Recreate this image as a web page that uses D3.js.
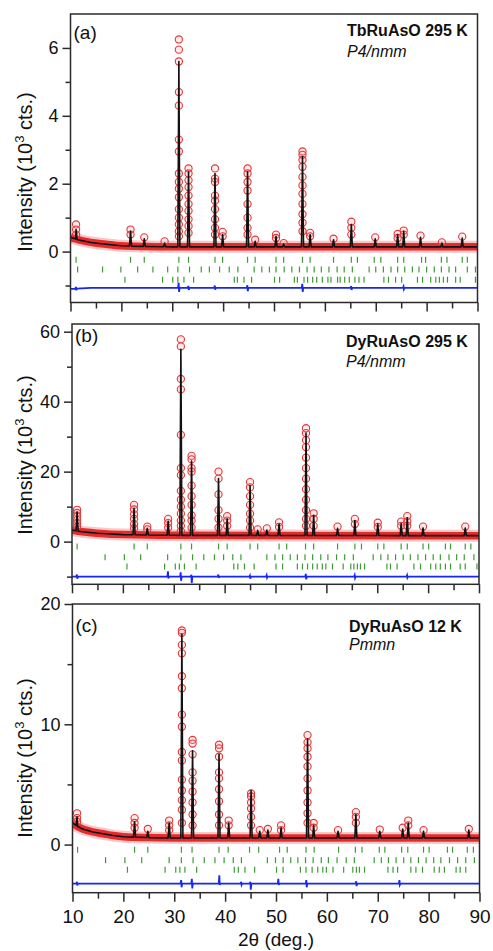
<!DOCTYPE html>
<html>
<head>
<meta charset="utf-8">
<script src="https://cdn.jsdelivr.net/npm/d3@7"></script>
<style>
  body { margin: 0; background: #fff; }
  svg { display: block; }
  text { font-family: "Liberation Sans", Arial, sans-serif; fill: #111; }
</style>
</head>
<body>
<svg id="chart" width="493" height="951"></svg>
<script>
// ---------- shared axis values ----------
const xMajor = [10, 20, 30, 40, 50, 60, 70, 80, 90];
const xMinor = [15, 25, 35, 45, 55, 65, 75, 85];

// ---------- (a) TbRuAsO 295 K ----------
const yMajorA = [0, 2, 4, 6];
const yMinorA = [-1, 1, 3, 5];
// background [2θ, I]
const bgA = [[10, 0.42], [11, 0.37], [12, 0.33], [14, 0.27], [16, 0.23], [18, 0.2], [20, 0.17], [25, 0.15], [30, 0.14], [90, 0.14]];
// peaks: [2θ, calculated top, observed points along the peak]
const peaksA = [
  [11.1, 0.65, [0.8, 0.65, 0.5]],
  [21.8, 0.6, [0.65, 0.5]],
  [24.5, 0.38, [0.42]],
  [28.5, 0.25, [0.3]],
  [31.3, 5.6, [6.25, 5.95, 5.6, 4.7, 4.3, 3.3, 2.95, 2.3, 2.05, 1.85, 1.6, 1.25, 1.0, 0.8, 0.6, 0.45]],
  [33.2, 2.35, [2.45, 2.3, 2.1, 1.9, 1.65, 1.4, 1.2, 0.95, 0.75, 0.55]],
  [38.4, 2.3, [2.45, 2.15, 2.05, 1.65, 1.5, 1.25, 0.95, 0.7, 0.5]],
  [39.9, 0.5, [0.58, 0.45]],
  [44.8, 2.35, [2.45, 2.3, 2.05, 1.8, 1.4, 1.0, 0.7, 0.5]],
  [46.3, 0.3, [0.35]],
  [50.4, 0.45, [0.5, 0.4]],
  [51.9, 0.22, [0.25]],
  [55.6, 2.8, [2.95, 2.85, 2.7, 2.5, 2.2, 1.95, 1.7, 1.4, 1.1, 0.85, 0.6]],
  [57.1, 0.5, [0.55, 0.45]],
  [61.7, 0.35, [0.38]],
  [65.2, 0.8, [0.88, 0.7, 0.5]],
  [69.9, 0.38, [0.42]],
  [74.3, 0.5, [0.52, 0.4]],
  [75.5, 0.6, [0.62, 0.5]],
  [78.8, 0.42, [0.47]],
  [83.0, 0.25, [0.27]],
  [87.0, 0.4, [0.44]]
];
const braggA1 = [11.1, 21.8, 24.5, 31.3, 33.2, 38.4, 39.9, 44.8, 46.3, 50.4, 51.9, 55.6, 57.1, 61.7, 65.2, 66.4, 69.7, 71.0, 74.3, 75.5, 79.0, 79.8, 82.9, 84.0, 87.0, 88.0];
const braggA2 = [11.4, 16.3, 19.9, 23.2, 26.2, 29.1, 31.1, 33.4, 35.7, 37.3, 39.3, 41.2, 42.9, 46.1, 47.6, 49.1, 50.4, 52.0, 53.5, 55.0, 56.5, 57.9, 59.3, 60.8, 62.4, 63.8, 65.4, 68.7, 70.0, 71.5, 73.0, 74.3, 75.7, 77.2, 78.5, 80.0, 81.5, 82.9, 84.4, 85.7, 88.0, 89.6];
const braggA3 = [20.7, 28.1, 30.1, 31.1, 32.3, 34.2, 42.2, 42.8, 44.1, 45.6, 50.1, 51.1, 54.0, 54.6, 55.9, 56.6, 57.6, 58.4, 59.5, 60.6, 61.2, 62.5, 63.0, 63.9, 64.8, 65.9, 66.7, 67.7, 71.6, 72.5, 73.9, 75.1, 78.2, 79.2, 80.8, 81.8, 82.5, 83.3, 84.1, 85.7, 86.6, 89.6];
// difference curve: baseline [2θ, I] and spikes [2θ, up, down]
const diffBaseA = [[10, -1.1], [14, -1.07], [90, -1.07]];
const diffSpikesA = [[11.1, 0.05, -0.05], [31.3, 0.15, -0.12], [33.2, 0.06, -0.06], [38.4, 0.07, -0.05], [44.8, 0.08, -0.1], [55.6, 0.12, -0.12], [65.2, 0.05, -0.06], [75.5, 0.04, -0.04]];

// ---------- (b) DyRuAsO 295 K ----------
const yMajorB = [0, 20, 40, 60];
const yMinorB = [-10, 10, 30, 50];
const bgB = [[10, 3.3], [12, 2.8], [15, 2.4], [20, 2.0], [30, 1.8], [90, 1.7]];
const peaksB = [
  [11.0, 8.5, [9.1, 8.2, 7.2, 6.2, 5.2, 4.2]],
  [22.2, 9.5, [10.5, 9.2, 7.8, 6.5, 5.0, 3.8]],
  [24.8, 3.8, [4.3, 3.5]],
  [28.9, 5.8, [6.5, 5.3, 4.0]],
  [31.4, 55, [57.8, 55.8, 46.5, 43.5, 30.5, 21, 19, 14.5, 12, 10, 8, 6, 4.5, 3]],
  [33.5, 23, [24.5, 23.5, 21, 20, 16, 13, 10.5, 7.5, 6, 4]],
  [38.8, 18, [20, 18, 13.5, 9, 6.5, 4]],
  [40.5, 6.5, [7.3, 6, 4.5]],
  [45.0, 16, [17, 15.5, 13, 10.5, 8, 6, 4]],
  [46.5, 3.2, [3.5]],
  [48.3, 3.3, [3.8]],
  [50.7, 5.0, [5.5, 4.2]],
  [56.0, 31, [32.4, 31, 29, 27, 24, 21, 18, 15, 12, 9, 6.5, 4.5]],
  [57.5, 7.5, [8.1, 6.5, 4.5]],
  [62.2, 3.8, [4.3]],
  [65.6, 6.0, [6.5, 5]],
  [70.1, 5.0, [5.4, 4.2]],
  [74.7, 5.2, [5.7, 4.5]],
  [75.9, 6.8, [7.3, 5.8, 4.5]],
  [79.0, 3.9, [4.3]],
  [87.3, 3.9, [4.3]]
];
const braggB1 = [11.0, 22.2, 24.8, 31.4, 33.5, 38.8, 40.5, 45.0, 46.5, 50.7, 52.2, 55.9, 57.5, 62.2, 65.6, 66.9, 70.1, 71.3, 74.7, 75.9, 79.0, 80.1, 83.4, 84.4, 87.3, 88.4];
const braggB2 = [16.5, 20.3, 23.5, 28.8, 31.4, 33.7, 35.9, 38.0, 39.8, 41.6, 43.2, 48.3, 49.9, 51.4, 52.9, 54.3, 55.8, 57.3, 58.9, 60.3, 62.0, 63.6, 65.3, 69.2, 70.7, 72.1, 73.6, 75.1, 76.5, 78.0, 79.5, 81.0, 82.4, 84.1, 85.6, 87.1, 89.0];
const braggB3 = [20.8, 28.2, 30.3, 31.1, 32.1, 34.4, 41.8, 42.6, 43.9, 45.8, 50.1, 51.4, 54.3, 55.3, 56.3, 57.3, 58.2, 59.2, 59.9, 61.2, 63.3, 64.8, 65.4, 66.1, 66.7, 67.5, 71.9, 72.6, 73.9, 77.2, 78.5, 80.5, 81.5, 82.4, 83.4, 84.4, 86.3, 87.3, 89.6];
const diffBaseB = [[10, -10], [90, -10]];
const diffSpikesB = [[11.0, 0.6, -0.6], [28.9, 1.5, -0.5], [31.4, 1.2, -1.2], [33.5, 0.5, -1.8], [38.8, 0.6, -0.4], [45.0, 0.3, -0.6], [48.3, 0.4, -0.3], [56.0, 0.8, -0.8], [65.6, 0.4, -0.4], [75.9, 0.4, -0.3]];

// ---------- (c) DyRuAsO 12 K ----------
const yMajorC = [0, 10, 20];
const yMinorC = [5, 15];
const bgC = [[10, 1.8], [11, 1.5], [12, 1.3], [14, 1.05], [16, 0.9], [18, 0.75], [20, 0.65], [25, 0.58], [30, 0.55], [90, 0.55]];
const peaksC = [
  [10.9, 2.3, [2.6, 2.2, 1.9]],
  [22.2, 1.9, [2.2, 1.8, 1.4]],
  [24.8, 1.1, [1.3]],
  [29.0, 1.8, [2.0, 1.6, 1.2]],
  [31.5, 17.5, [17.8, 17.6, 16.6, 15.9, 14.0, 13.0, 10.8, 9.8, 7.7, 7.0, 5.4, 4.5, 3.7, 2.9, 1.8]],
  [33.6, 7.8, [8.7, 8.4, 7.5, 6.0, 5.3, 4.4, 3.5, 2.5, 1.6]],
  [38.8, 7.5, [8.3, 8.0, 7.3, 6.0, 5.5, 4.6, 3.6, 2.5, 1.6]],
  [40.7, 1.8, [2.0, 1.6]],
  [45.1, 4.5, [4.25, 4.0, 3.5, 3.0, 2.3, 1.6]],
  [46.8, 1.1, [1.2]],
  [48.4, 1.2, [1.3]],
  [51.0, 1.4, [1.6, 1.2]],
  [56.2, 8.8, [9.1, 8.5, 8.0, 7.3, 6.5, 5.5, 4.5, 3.5, 2.6, 1.8]],
  [57.4, 1.6, [1.8, 1.4]],
  [62.2, 1.1, [1.2]],
  [65.7, 2.5, [2.7, 2.3, 1.8]],
  [70.4, 1.1, [1.25]],
  [74.9, 1.3, [1.4]],
  [76.0, 1.8, [2.0, 1.6]],
  [79.0, 1.1, [1.2]],
  [87.9, 1.2, [1.3]]
];
const braggC1 = [11.0, 22.2, 24.8, 31.4, 33.5, 38.8, 40.6, 44.8, 46.6, 50.7, 52.2, 55.9, 57.5, 62.3, 65.6, 66.9, 70.3, 71.4, 74.7, 75.9, 79.0, 80.1, 83.7, 84.7, 87.6, 88.8];
const braggC2 = [16.5, 20.3, 23.6, 29.0, 31.4, 33.7, 35.9, 38.0, 39.8, 41.6, 43.2, 48.3, 49.9, 51.4, 52.9, 54.3, 55.8, 57.3, 58.9, 60.3, 62.0, 63.8, 65.4, 69.3, 70.7, 72.1, 73.6, 75.1, 76.5, 78.0, 79.5, 81.0, 82.4, 84.1, 85.7, 87.3, 89.0];
const braggC3 = [20.8, 28.2, 30.3, 31.1, 32.1, 34.4, 41.8, 42.6, 43.9, 45.8, 50.1, 51.4, 54.8, 55.9, 57.1, 58.2, 59.2, 59.9, 61.2, 63.3, 65.1, 65.8, 66.4, 67.4, 72.0, 73.0, 73.9, 76.5, 77.5, 78.8, 81.1, 82.1, 83.1, 85.4, 86.2, 87.3];
const diffBaseC = [[10, -3.25], [90, -3.25]];
const diffSpikesC = [[10.9, 0.15, -0.15], [31.4, 0.3, -0.3], [33.5, 0.4, -0.4], [38.9, 0.7, -0.1], [43.2, 0.15, -0.1], [45.0, 0.15, -0.5], [50.5, 0.4, -0.1], [56.0, 0.3, -0.3], [65.8, 0.2, -0.2], [74.3, 0.3, -0.1]];

// ---------- layout ----------
const panels = [
  { left: 70.5, right: 477.5, top: 14, bottom: 302.5, yDomain: [-1.5, 7],
    yMajor: yMajorA, yMinor: yMinorA, bg: bgA, peaks: peaksA,
    bragg: [braggA1, braggA2, braggA3], braggY: [-0.24, -0.53, -0.83],
    diffBase: diffBaseA, diffSpikes: diffSpikesA,
    tag: "(a)", tagY: 39, compound: "TbRuAsO 295 K", group: "P4/nmm",
    textX: 347, compoundY: 36, groupY: 57, titleCY: 172, xLabels: false },
  { left: 72, right: 479, top: 324, bottom: 584.3, yDomain: [-12.2, 62.2],
    yMajor: yMajorB, yMinor: yMinorB, bg: bgB, peaks: peaksB,
    bragg: [braggB1, braggB2, braggB3], braggY: [-1.4, -4.5, -7.1],
    diffBase: diffBaseB, diffSpikes: diffSpikesB,
    tag: "(b)", tagY: 342, compound: "DyRuAsO 295 K", group: "P4/nmm",
    textX: 346, compoundY: 346.5, groupY: 366.5, titleCY: 455, xLabels: false },
  { left: 72.5, right: 479.5, top: 604, bottom: 892.7, yDomain: [-4, 20],
    yMajor: yMajorC, yMinor: yMinorC, bg: bgC, peaks: peaksC,
    bragg: [braggC1, braggC2, braggC3], braggY: [-0.42, -1.3, -2.1],
    diffBase: diffBaseC, diffSpikes: diffSpikesC,
    tag: "(c)", tagY: 632, compound: "DyRuAsO 12 K", group: "Pmmn",
    textX: 349, compoundY: 631.5, groupY: 650, titleCY: 758, xLabels: true }
];

const svg = d3.select("#chart");
const RED = "#e3191c", GREEN = "#3f9a36", BLUE = "#1428f0", AXIS = "#2a2a2a";
const FONT = '"Liberation Sans", Arial, sans-serif';

panels.forEach(p => {
  const x = d3.scaleLinear().domain([10, 90]).range([p.left, p.right]);
  const y = d3.scaleLinear().domain(p.yDomain).range([p.bottom, p.top]);
  const bgAt = d3.scaleLinear().domain(p.bg.map(d => d[0])).range(p.bg.map(d => d[1]));
  const g = svg.append("g");

  const clipId = "clip" + p.tag.replace(/\W/g, "");
  svg.append("clipPath").attr("id", clipId).append("rect")
    .attr("x", p.left).attr("y", p.top).attr("width", p.right - p.left).attr("height", p.bottom - p.top);
  const plot = g.append("g").attr("clip-path", `url(#${clipId})`);

  const line = d3.line().x(d => x(d[0])).y(d => y(d[1]));

  // observed background: dense band of open circles
  plot.append("path").datum(p.bg)
    .attr("d", line.curve(d3.curveMonotoneX))
    .attr("fill", "none").attr("stroke", "#f19a9a").attr("stroke-width", 12).attr("stroke-opacity", 0.55);
  plot.append("path").datum(p.bg)
    .attr("d", line.curve(d3.curveMonotoneX))
    .attr("fill", "none").attr("stroke", RED).attr("stroke-width", 7.5).attr("stroke-opacity", 0.9);
  line.curve(d3.curveLinear);

  // observed points along the peaks
  const obs = p.peaks.flatMap(pk => pk[2].map(v => [pk[0], v]));
  plot.append("g").selectAll("circle").data(obs).join("circle")
    .attr("cx", d => x(d[0])).attr("cy", d => y(d[1])).attr("r", 3.6)
    .attr("fill", "rgba(255,170,170,0.25)").attr("stroke", "#e2373a").attr("stroke-width", 1.1);

  // calculated profile
  const calc = p.bg.slice();
  p.peaks.forEach(pk => {
    calc.push([pk[0] - 0.2, bgAt(pk[0] - 0.2)], [pk[0], pk[1]], [pk[0] + 0.2, bgAt(pk[0] + 0.2)]);
  });
  calc.sort((a, b) => a[0] - b[0]);
  plot.append("path").datum(calc).attr("d", line)
    .attr("fill", "none").attr("stroke", "#111").attr("stroke-width", 1.6).attr("stroke-linejoin", "round");

  // Bragg reflection markers
  p.bragg.forEach((row, i) => {
    plot.append("g").selectAll("line").data(row).join("line")
      .attr("x1", d => x(d)).attr("x2", d => x(d))
      .attr("y1", y(p.braggY[i]) - 3).attr("y2", y(p.braggY[i]) + 3)
      .attr("stroke", GREEN).attr("stroke-width", 1.2);
  });

  // difference curve
  const diff = p.diffBase.slice();
  const baseAt = d3.scaleLinear().domain(p.diffBase.map(d => d[0])).range(p.diffBase.map(d => d[1]));
  p.diffSpikes.forEach(s => {
    const b = baseAt(s[0]);
    diff.push([s[0] - 0.15, b], [s[0] - 0.04, b + s[1]], [s[0] + 0.04, b + s[2]], [s[0] + 0.15, b]);
  });
  diff.sort((a, b) => a[0] - b[0]);
  plot.append("path").datum(diff).attr("d", line)
    .attr("fill", "none").attr("stroke", BLUE).attr("stroke-width", 1.8);

  // frame
  g.append("rect").attr("x", p.left).attr("y", p.top)
    .attr("width", p.right - p.left).attr("height", p.bottom - p.top)
    .attr("fill", "none").attr("stroke", AXIS).attr("stroke-width", 1.5);

  // y axis
  const yAx = g.append("g").attr("transform", `translate(${p.left},0)`)
    .call(d3.axisLeft(y).tickValues(p.yMajor).tickSize(8).tickPadding(4).tickSizeOuter(0).tickFormat(d3.format("d")));
  yAx.select(".domain").remove();
  yAx.selectAll("line").attr("stroke", AXIS).attr("stroke-width", 1.5);
  yAx.selectAll("text").attr("font-size", 18).attr("font-family", FONT).attr("fill", "#111");
  const yMin = g.append("g").attr("transform", `translate(${p.left},0)`)
    .call(d3.axisLeft(y).tickValues(p.yMinor).tickSize(5).tickFormat(""));
  yMin.select(".domain").remove();
  yMin.selectAll("line").attr("stroke", AXIS).attr("stroke-width", 1.5);

  // x axis
  const xAx = g.append("g").attr("transform", `translate(0,${p.bottom})`)
    .call(d3.axisBottom(x).tickValues(xMajor).tickSize(9).tickPadding(8).tickSizeOuter(0)
      .tickFormat(p.xLabels ? d3.format("d") : ""));
  xAx.select(".domain").remove();
  xAx.selectAll("line").attr("stroke", AXIS).attr("stroke-width", 1.5);
  xAx.selectAll("text").attr("font-size", 19).attr("font-family", FONT).attr("fill", "#111");
  const xMin = g.append("g").attr("transform", `translate(0,${p.bottom})`)
    .call(d3.axisBottom(x).tickValues(xMinor).tickSize(6).tickFormat(""));
  xMin.select(".domain").remove();
  xMin.selectAll("line").attr("stroke", AXIS).attr("stroke-width", 1.5);

  // panel texts
  g.append("text").attr("x", p.left + 3).attr("y", p.tagY).attr("font-size", 19).text(p.tag);
  g.append("text").attr("x", p.textX).attr("y", p.compoundY).attr("font-size", 16)
    .attr("font-weight", "bold").text(p.compound);
  g.append("text").attr("x", p.textX).attr("y", p.groupY).attr("font-size", 16)
    .attr("font-style", "italic").text(p.group);

  const t = g.append("text").attr("transform", `translate(32,${p.titleCY}) rotate(-90)`)
    .attr("text-anchor", "middle").attr("font-size", 20);
  t.append("tspan").text("Intensity (10");
  t.append("tspan").attr("font-size", 13).attr("dy", -8).text("3");
  t.append("tspan").attr("dy", 8).text(" cts.)");
});

svg.append("text").attr("x", 276).attr("y", 946).attr("text-anchor", "middle")
  .attr("font-size", 19).text("2θ (deg.)");
</script>
</body>
</html>
